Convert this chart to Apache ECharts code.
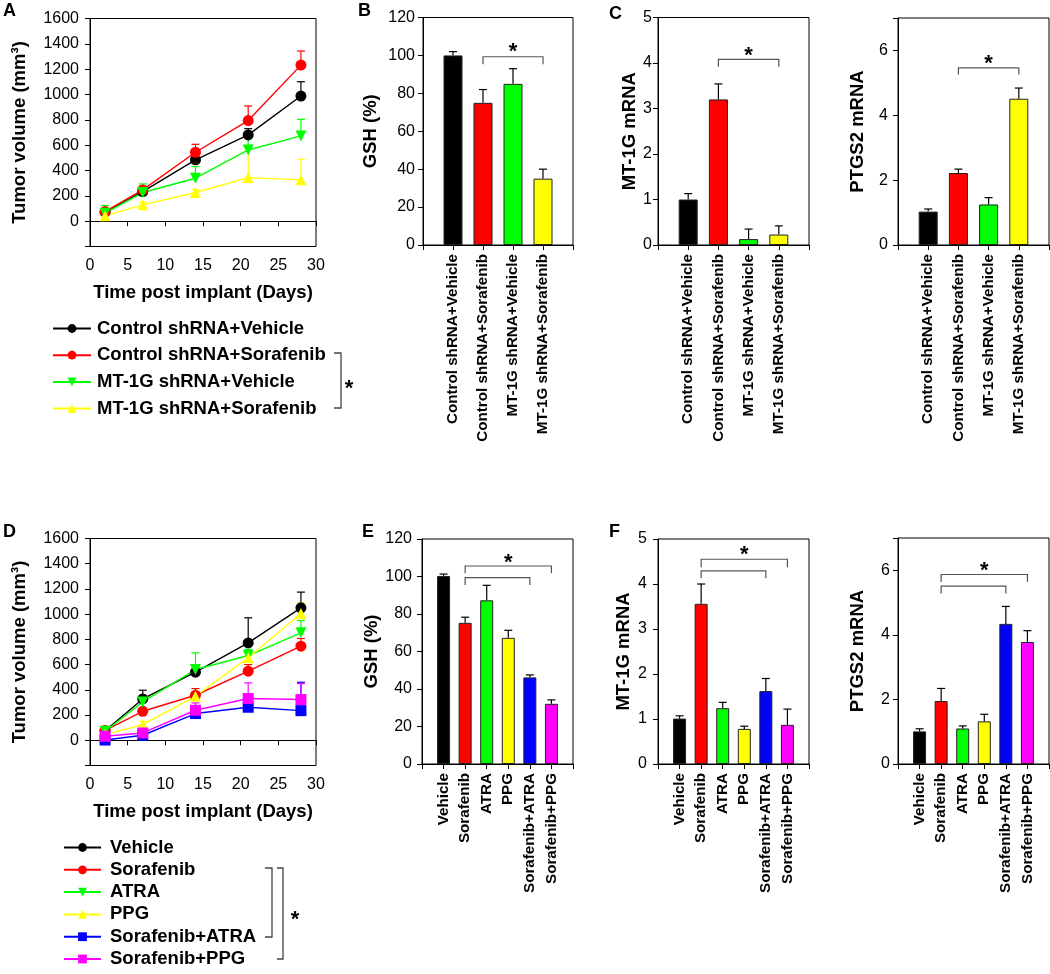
<!DOCTYPE html>
<html><head><meta charset="utf-8">
<script src="https://cdn.jsdelivr.net/npm/echarts@6/dist/echarts.min.js"></script>
<style>html,body{margin:0;padding:0;background:#fff}#c{width:1050px;height:974px}</style>
</head><body><div id="c"></div>
<script>
// ---------- data ----------
const days = [2, 7, 14, 21, 28];

// Panel A (tumor volume, mm3)
const namesA = ['Control shRNA+Vehicle', 'Control shRNA+Sorafenib', 'MT-1G shRNA+Vehicle', 'MT-1G shRNA+Sorafenib'];
const aCtrlVeh = [71, 234, 484, 681, 988];
const aCtrlVehErr = [95, 262, 549, 730, 1101];
const aCtrlSor = [76, 247, 544, 794, 1232];
const aCtrlSorErr = [100, 273, 607, 909, 1343];
const aMtVeh = [63, 226, 339, 562, 673];
const aMtVehErr = [124, 294, 431, 700, 804];
const aMtSor = [42, 129, 226, 344, 326];
const aMtSorErr = [70, 150, 250, 580, 489];

// Panel D (tumor volume, mm3)
const namesD = ['Vehicle', 'Sorafenib', 'ATRA', 'PPG', 'Sorafenib+ATRA', 'Sorafenib+PPG'];
const dVeh = [75, 328, 540, 772, 1050];
const dVehErr = [105, 397, 587, 971, 1175];
const dSor = [78, 230, 357, 548, 746];
const dSorErr = [100, 255, 410, 600, 807];
const dAtra = [72, 304, 561, 672, 852];
const dAtraErr = [95, 330, 693, 720, 950];
const dPpg = [45, 124, 349, 655, 1005];
const dPpgErr = [60, 150, 380, 700, 1090];
const dSorAtra = [2, 40, 212, 262, 235];
const dSorAtraErr = [20, 60, 235, 296, 460];
const dSorPpg = [32, 58, 238, 331, 323];
const dSorPpgErr = [50, 80, 296, 455, 450];

// Bar panels B, C
const catsBC = ['Control shRNA+Vehicle', 'Control shRNA+Sorafenib', 'MT-1G shRNA+Vehicle', 'MT-1G shRNA+Sorafenib'];
const gshB = [100, 75, 85, 35];
const gshBErr = [102, 82, 93, 40];
const mt1gC = [1.0, 3.2, 0.13, 0.23];
const mt1gCErr = [1.13, 3.54, 0.35, 0.42];
const ptgs2C = [1.03, 2.22, 1.25, 4.51];
const ptgs2CErr = [1.11, 2.34, 1.46, 4.84];

// Bar panels E, F
const catsEF = ['Vehicle', 'Sorafenib', 'ATRA', 'PPG', 'Sorafenib+ATRA', 'Sorafenib+PPG'];
const gshE = [100.3, 75.3, 87.3, 67.3, 46.2, 32.1];
const gshEErr = [101.3, 78.3, 95.3, 71.3, 47.5, 34.2];
const mt1gF = [1.01, 3.56, 1.24, 0.78, 1.62, 0.87];
const mt1gFErr = [1.07, 4.0, 1.37, 0.84, 1.9, 1.22];
const ptgs2F = [1.01, 1.95, 1.1, 1.32, 4.34, 3.78];
const ptgs2FErr = [1.09, 2.34, 1.18, 1.54, 4.88, 4.13];

// significance brackets: [fromBar, toBar, bracketLevel, tipLevel]
const brB = [[2, 4, 99.3, 95.4]];
const brC1 = [[2, 4, 4.08, 3.92]];
const brC2 = [[2, 4, 5.46, 5.26]];
const brE = [[2, 5, 99.4, 95.5], [2, 6, 105.6, 101.7]];
const brF1 = [[2, 5, 4.29, 4.13], [2, 6, 4.55, 4.37]];
const brF2 = [[2, 5, 5.51, 5.28], [2, 6, 5.87, 5.64]];
// stars: [x, y]
const starB = [[3, 104.4]];
const starC1 = [[3, 4.27]];
const starC2 = [[3, 5.74]];
const starE = [[4, 110]];
const starF1 = [[4, 4.76]];
const starF2 = [[4, 6.12]];

// ---------- styling ----------
const FONT = 'Liberation Sans, Arial, sans-serif';
const colsA = ['#000000', '#ff0000', '#00ff00', '#ffff00'];
const symA = ['circle', 'circle', 'triangle', 'triangle'];
const rotA = [0, 0, 180, 0];
const colsD = ['#000000', '#ff0000', '#00ff00', '#ffff00', '#0000ff', '#ff00ff'];
const symD = ['circle', 'circle', 'triangle', 'triangle', 'rect', 'rect'];
const rotD = [0, 0, 180, 0, 0, 0];

const grids = [
  {left: 90, top: 18.5, width: 226, height: 228},   // A
  {left: 423, top: 17.5, width: 150, height: 227.5}, // B
  {left: 658, top: 17.5, width: 151, height: 227.5}, // C1
  {left: 898, top: 18, width: 151, height: 227},     // C2
  {left: 90, top: 538.5, width: 226, height: 227},   // D
  {left: 422, top: 539, width: 151, height: 225},    // E
  {left: 658, top: 539, width: 151, height: 225},    // F1
  {left: 898, top: 538, width: 151, height: 226}     // F2
].map(g => Object.assign({show: true, borderColor: '#000', borderWidth: 1, containLabel: false}, g));

const axisLine = {show: true, lineStyle: {color: '#000', width: 1}};
const axisTick = {show: true, length: 5, lineStyle: {color: '#000', width: 1}};
const tickLabel = {color: '#000', fontSize: 16, fontFamily: FONT};
const nameStyle = {color: '#000', fontSize: 18.5, fontWeight: 'bold', fontFamily: FONT};

function lineX(gi) {
  return {type: 'value', gridIndex: gi, min: 0, max: 30, interval: 5, axisLine, axisTick,
    splitLine: {show: false}, axisLabel: Object.assign({margin: 11}, tickLabel),
    name: 'Time post implant (Days)', nameLocation: 'middle', nameGap: 37, nameTextStyle: nameStyle};
}
function lineY(gi) {
  return {type: 'value', gridIndex: gi, min: -200, max: 1600, interval: 200, axisLine, axisTick,
    splitLine: {show: false}, axisLabel: Object.assign({margin: 11, formatter: v => v < 0 ? '' : String(v)}, tickLabel),
    name: 'Tumor volume (mm³)', nameLocation: 'middle', nameGap: 61, nameTextStyle: nameStyle};
}
function barX(gi, cats) {
  return {type: 'value', gridIndex: gi, min: 0, max: cats.length + 1, interval: 1, axisLine, axisTick,
    splitLine: {show: false},
    axisLabel: {rotate: 90, margin: 9, color: '#000', fontSize: 15.2, fontWeight: 'bold', fontFamily: FONT,
      formatter: v => cats[v - 1] || ''}};
}
function barY(gi, max, interval, name, gap, margin) {
  return {type: 'value', gridIndex: gi, min: 0, max, interval, axisLine, axisTick,
    splitLine: {show: false},
    axisLabel: Object.assign({margin, formatter: v => (Math.round(v / interval) * interval === v) ? String(v) : ''}, tickLabel),
    name, nameLocation: 'middle', nameGap: gap, nameTextStyle: nameStyle};
}

const xAxes = [lineX(0), barX(1, catsBC), barX(2, catsBC), barX(3, catsBC),
               lineX(4), barX(5, catsEF), barX(6, catsEF), barX(7, catsEF)];
const yAxes = [lineY(0), barY(1, 120, 20, 'GSH (%)', 43, 8), barY(2, 5, 1, 'MT-1G mRNA', 17, 6),
               barY(3, 7, 2, 'PTGS2 mRNA', 31, 10),
               lineY(4), barY(5, 120, 20, 'GSH (%)', 41, 10), barY(6, 5, 1, 'MT-1G mRNA', 25, 11),
               barY(7, 7, 2, 'PTGS2 mRNA', 31, 8)];

function errSeries(ai, pts, color, capHalf) {
  return {type: 'custom', xAxisIndex: ai, yAxisIndex: ai, z: 1, silent: true,
    data: pts, encode: {x: 0, y: [1, 2]},
    renderItem(params, api) {
      const p0 = api.coord([api.value(0), api.value(1)]);
      const p1 = api.coord([api.value(0), api.value(2)]);
      const st = {stroke: color, lineWidth: 1.2};
      return {type: 'group', children: [
        {type: 'line', shape: {x1: p0[0], y1: p0[1], x2: p1[0], y2: p1[1]}, style: st},
        {type: 'line', shape: {x1: p1[0] - capHalf, y1: p1[1], x2: p1[0] + capHalf, y2: p1[1]}, style: st}
      ]};
    }};
}
function bracketSeries(ai, br) {
  return {type: 'custom', xAxisIndex: ai, yAxisIndex: ai, z: 3, silent: true,
    data: br, encode: {x: [0, 1], y: [2, 3]},
    renderItem(params, api) {
      const a = api.coord([api.value(0), api.value(3)]);
      const b = api.coord([api.value(0), api.value(2)]);
      const c = api.coord([api.value(1), api.value(2)]);
      const d = api.coord([api.value(1), api.value(3)]);
      return {type: 'polyline', shape: {points: [a, b, c, d]}, style: {stroke: '#555', lineWidth: 1.2, fill: null}};
    }};
}
function starSeries(ai, st) {
  return {type: 'custom', xAxisIndex: ai, yAxisIndex: ai, z: 3, silent: true,
    data: st, encode: {x: 0, y: 1},
    renderItem(params, api) {
      const p = api.coord([api.value(0), api.value(1)]);
      return {type: 'text', style: {text: '*', x: p[0], y: p[1] + 5, textAlign: 'center', textVerticalAlign: 'middle',
        font: 'bold 22px ' + FONT, fill: '#000'}};
    }};
}
function barSeries(ai, vals, cols, bw) {
  return {type: 'bar', xAxisIndex: ai, yAxisIndex: ai, barWidth: bw, z: 2, silent: true,
    data: vals.map((v, i) => ({value: [i + 1, v], itemStyle: {color: cols[i]}})),
    itemStyle: {borderColor: '#222', borderWidth: 1}};
}
function lineSeries(ai, name, vals, color, sym, rot) {
  return {type: 'line', name, xAxisIndex: ai, yAxisIndex: ai, z: 2, silent: true,
    data: days.map((d, i) => [d, vals[i]]), symbol: sym, symbolRotate: rot, symbolSize: 11,
    showAllSymbol: true, lineStyle: {color, width: 1.4}, itemStyle: {color}};
}
function pts(vals, errs) { return vals.map((v, i) => [i + 1, v, errs[i]]); }
function ptsDays(vals, errs) { return days.map((d, i) => [d, vals[i], errs[i]]); }

const series = [];
// Panel A
const aVals = [aCtrlVeh, aCtrlSor, aMtVeh, aMtSor];
const aErrs = [aCtrlVehErr, aCtrlSorErr, aMtVehErr, aMtSorErr];
aVals.forEach((v, k) => series.push(errSeries(0, ptsDays(v, aErrs[k]), colsA[k], 4)));
aVals.forEach((v, k) => series.push(lineSeries(0, namesA[k], v, colsA[k], symA[k], rotA[k])));
// Panel D
const dVals = [dVeh, dSor, dAtra, dPpg, dSorAtra, dSorPpg];
const dErrs = [dVehErr, dSorErr, dAtraErr, dPpgErr, dSorAtraErr, dSorPpgErr];
dVals.forEach((v, k) => series.push(errSeries(4, ptsDays(v, dErrs[k]), colsD[k], 4)));
dVals.forEach((v, k) => series.push(lineSeries(4, namesD[k], v, colsD[k], symD[k], rotD[k])));
// Bars
const barPanels = [
  [1, gshB, gshBErr, colsA, 19, brB, starB],
  [2, mt1gC, mt1gCErr, colsA, 19, brC1, starC1],
  [3, ptgs2C, ptgs2CErr, colsA, 19, brC2, starC2],
  [5, gshE, gshEErr, colsD, 13, brE, starE],
  [6, mt1gF, mt1gFErr, colsD, 13, brF1, starF1],
  [7, ptgs2F, ptgs2FErr, colsD, 13, brF2, starF2]
];
barPanels.forEach(([ai, v, e, c, bw, br, st]) => {
  series.push(errSeries(ai, pts(v, e), '#000', 4));
  series.push(barSeries(ai, v, c, bw));
  series.push(bracketSeries(ai, br));
  series.push(starSeries(ai, st));
});

const legendText = (pad) => ({color: '#000', fontSize: 18.5, fontWeight: 'bold', fontFamily: FONT, lineHeight: 18,
  padding: [0, 0, 0, pad]});
const legends = [
  {data: namesA, orient: 'vertical', left: 52, top: 319, itemWidth: 38, itemHeight: 11, itemGap: 7.7,
   padding: 0, selectedMode: false, textStyle: legendText(1)},
  {data: namesD, orient: 'vertical', left: 63, top: 838, itemWidth: 37, itemHeight: 11, itemGap: 3.3,
   padding: 0, selectedMode: false, textStyle: legendText(4)}
];

const letterStyle = (t, x, y) => ({type: 'text', left: x, top: y, silent: true,
  style: {text: t, font: 'bold 18px ' + FONT, fill: '#000'}});
const brk = (x, y1, y2, w) => ({type: 'polyline', silent: true,
  shape: {points: [[x - w, y1], [x, y1], [x, y2], [x - w, y2]]}, style: {stroke: '#444', lineWidth: 1.3, fill: null}});
const star = (x, y) => ({type: 'text', silent: true, x, y,
  style: {text: '*', font: 'bold 22px ' + FONT, fill: '#000', textAlign: 'center', textVerticalAlign: 'middle'}});

const graphic = [
  letterStyle('A', 3, 2), letterStyle('B', 358, 2), letterStyle('C', 609, 5),
  letterStyle('D', 3, 523), letterStyle('E', 362, 523), letterStyle('F', 609, 523),
  brk(341, 353, 408, 7), star(349, 389),
  brk(272, 868, 937, 7), brk(283, 868, 959, 6), star(295, 920)
];

const chart = echarts.init(document.getElementById('c'), null, {renderer: 'canvas'});
chart.setOption({
  animation: false, backgroundColor: '#fff',
  grid: grids, xAxis: xAxes, yAxis: yAxes, series, legend: legends, graphic
});
</script></body></html>
